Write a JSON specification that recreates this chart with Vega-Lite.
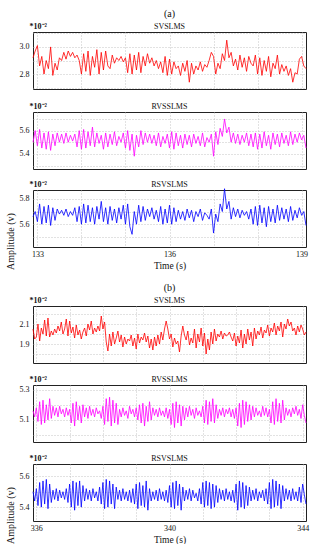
{
"$schema":"https://vega.github.io/schema/vega-lite/v6.json",
"padding":{"left":5,"top":8,"right":0,"bottom":0},
"background":"white",
"config":{
"font":"Liberation Serif",
"view":{"stroke":"#222","strokeWidth":1},
"axis":{"domain":false,"ticks":false,"grid":true,"gridColor":"#b5b5b5","gridDash":[1,2],"gridWidth":0.8,"labelFont":"Liberation Serif","labelFontSize":8,"labelColor":"#111","labelPadding":4,"labelOverlap":false,"titleFont":"Liberation Serif","titleColor":"#111","titleFontWeight":"normal"},
"title":{"font":"Liberation Serif","fontWeight":"normal","fontSize":8,"color":"#111","offset":-9,"frame":"group","subtitleFont":"Liberation Serif","subtitleColor":"#111","subtitleFontSize":8,"subtitlePadding":4}
},
"datasets":{
"a":[
{"t":132.9,"s":2.92,"r":5.5,"q":5.66},{"t":132.95,"s":2.97,"r":5.6,"q":5.7},{"t":133,"s":3.01,"r":5.47,"q":5.62},{"t":133.05,"s":2.86,"r":5.61,"q":5.76},{"t":133.1,"s":2.93,"r":5.45,"q":5.6},{"t":133.15,"s":2.8,"r":5.58,"q":5.74},{"t":133.2,"s":2.9,"r":5.44,"q":5.61},{"t":133.25,"s":2.84,"r":5.59,"q":5.75},{"t":133.3,"s":3.0,"r":5.43,"q":5.59},{"t":133.35,"s":2.79,"r":5.57,"q":5.73},
{"t":133.4,"s":2.88,"r":5.47,"q":5.63},{"t":133.45,"s":2.83,"r":5.58,"q":5.72},{"t":133.5,"s":2.92,"r":5.5,"q":5.68},{"t":133.55,"s":2.9,"r":5.57,"q":5.71},{"t":133.6,"s":2.96,"r":5.49,"q":5.67},{"t":133.65,"s":2.91,"r":5.58,"q":5.72},{"t":133.7,"s":2.97,"r":5.5,"q":5.66},{"t":133.75,"s":2.93,"r":5.56,"q":5.7},{"t":133.8,"s":2.96,"r":5.51,"q":5.67},{"t":133.85,"s":2.92,"r":5.57,"q":5.73},
{"t":133.9,"s":2.94,"r":5.46,"q":5.62},{"t":133.95,"s":2.9,"r":5.6,"q":5.74},{"t":134,"s":2.8,"r":5.44,"q":5.6},{"t":134.05,"s":2.95,"r":5.61,"q":5.76},{"t":134.1,"s":2.82,"r":5.45,"q":5.61},{"t":134.15,"s":2.97,"r":5.59,"q":5.75},{"t":134.2,"s":2.79,"r":5.47,"q":5.62},{"t":134.25,"s":2.93,"r":5.63,"q":5.73},{"t":134.3,"s":2.85,"r":5.46,"q":5.6},{"t":134.35,"s":2.98,"r":5.58,"q":5.74},
{"t":134.4,"s":2.8,"r":5.49,"q":5.64},{"t":134.45,"s":2.96,"r":5.56,"q":5.78},{"t":134.5,"s":2.83,"r":5.44,"q":5.62},{"t":134.55,"s":2.97,"r":5.58,"q":5.73},{"t":134.6,"s":2.86,"r":5.46,"q":5.6},{"t":134.65,"s":2.84,"r":5.57,"q":5.74},{"t":134.7,"s":2.94,"r":5.48,"q":5.63},{"t":134.75,"s":2.88,"r":5.59,"q":5.72},{"t":134.8,"s":2.92,"r":5.47,"q":5.61},{"t":134.85,"s":2.9,"r":5.55,"q":5.73},
{"t":134.9,"s":2.93,"r":5.5,"q":5.64},{"t":134.95,"s":2.89,"r":5.58,"q":5.75},{"t":135,"s":2.92,"r":5.45,"q":5.6},{"t":135.05,"s":2.81,"r":5.6,"q":5.76},{"t":135.1,"s":2.95,"r":5.43,"q":5.58},{"t":135.15,"s":2.8,"r":5.57,"q":5.52},{"t":135.2,"s":2.94,"r":5.38,"q":5.7},{"t":135.25,"s":2.83,"r":5.56,"q":5.6},{"t":135.3,"s":2.96,"r":5.46,"q":5.75},{"t":135.35,"s":2.81,"r":5.6,"q":5.62},
{"t":135.4,"s":2.93,"r":5.48,"q":5.74},{"t":135.45,"s":2.86,"r":5.58,"q":5.63},{"t":135.5,"s":2.95,"r":5.5,"q":5.72},{"t":135.55,"s":2.88,"r":5.57,"q":5.66},{"t":135.6,"s":2.92,"r":5.49,"q":5.73},{"t":135.65,"s":2.86,"r":5.56,"q":5.64},{"t":135.7,"s":2.9,"r":5.47,"q":5.71},{"t":135.75,"s":2.84,"r":5.58,"q":5.62},{"t":135.8,"s":2.89,"r":5.46,"q":5.74},{"t":135.85,"s":2.81,"r":5.55,"q":5.6},
{"t":135.9,"s":2.93,"r":5.49,"q":5.72},{"t":135.95,"s":2.79,"r":5.57,"q":5.61},{"t":136,"s":2.91,"r":5.45,"q":5.75},{"t":136.05,"s":2.8,"r":5.59,"q":5.6},{"t":136.1,"s":2.89,"r":5.44,"q":5.73},{"t":136.15,"s":2.84,"r":5.58,"q":5.62},{"t":136.2,"s":2.86,"r":5.47,"q":5.71},{"t":136.25,"s":2.79,"r":5.56,"q":5.64},{"t":136.3,"s":2.88,"r":5.45,"q":5.7},{"t":136.35,"s":2.82,"r":5.57,"q":5.63},
{"t":136.4,"s":2.9,"r":5.48,"q":5.72},{"t":136.45,"s":2.74,"r":5.56,"q":5.65},{"t":136.5,"s":2.88,"r":5.46,"q":5.71},{"t":136.55,"s":2.8,"r":5.57,"q":5.62},{"t":136.6,"s":2.86,"r":5.49,"q":5.7},{"t":136.65,"s":2.83,"r":5.55,"q":5.66},{"t":136.7,"s":2.89,"r":5.47,"q":5.72},{"t":136.75,"s":2.82,"r":5.58,"q":5.63},{"t":136.8,"s":2.87,"r":5.46,"q":5.69},{"t":136.85,"s":2.85,"r":5.54,"q":5.67},
{"t":136.9,"s":2.9,"r":5.5,"q":5.64},{"t":136.95,"s":2.96,"r":5.57,"q":5.72},{"t":137,"s":2.93,"r":5.38,"q":5.53},{"t":137.05,"s":2.8,"r":5.59,"q":5.68},{"t":137.1,"s":2.88,"r":5.48,"q":5.62},{"t":137.15,"s":2.84,"r":5.62,"q":5.76},{"t":137.2,"s":2.95,"r":5.55,"q":5.7},{"t":137.25,"s":2.9,"r":5.7,"q":5.88},{"t":137.3,"s":3.05,"r":5.58,"q":5.72},{"t":137.35,"s":2.92,"r":5.63,"q":5.78},
{"t":137.4,"s":2.96,"r":5.5,"q":5.64},{"t":137.45,"s":2.86,"r":5.58,"q":5.73},{"t":137.5,"s":2.91,"r":5.49,"q":5.66},{"t":137.55,"s":2.83,"r":5.57,"q":5.72},{"t":137.6,"s":2.94,"r":5.48,"q":5.65},{"t":137.65,"s":2.85,"r":5.56,"q":5.71},{"t":137.7,"s":2.92,"r":5.5,"q":5.67},{"t":137.75,"s":2.82,"r":5.58,"q":5.7},{"t":137.8,"s":2.93,"r":5.47,"q":5.64},{"t":137.85,"s":2.88,"r":5.57,"q":5.72},
{"t":137.9,"s":2.86,"r":5.46,"q":5.6},{"t":137.95,"s":2.94,"r":5.58,"q":5.74},{"t":138,"s":2.8,"r":5.44,"q":5.59},{"t":138.05,"s":2.92,"r":5.57,"q":5.75},{"t":138.1,"s":2.79,"r":5.45,"q":5.61},{"t":138.15,"s":2.9,"r":5.59,"q":5.73},{"t":138.2,"s":2.82,"r":5.47,"q":5.58},{"t":138.25,"s":2.93,"r":5.56,"q":5.74},{"t":138.3,"s":2.78,"r":5.44,"q":5.62},{"t":138.35,"s":2.88,"r":5.58,"q":5.72},
{"t":138.4,"s":2.84,"r":5.48,"q":5.61},{"t":138.45,"s":2.94,"r":5.57,"q":5.75},{"t":138.5,"s":2.8,"r":5.46,"q":5.63},{"t":138.55,"s":2.87,"r":5.58,"q":5.73},{"t":138.6,"s":2.82,"r":5.49,"q":5.64},{"t":138.65,"s":2.86,"r":5.56,"q":5.72},{"t":138.7,"s":2.79,"r":5.47,"q":5.62},{"t":138.75,"s":2.84,"r":5.59,"q":5.74},{"t":138.8,"s":2.74,"r":5.48,"q":5.63},{"t":138.85,"s":2.81,"r":5.57,"q":5.71},
{"t":138.9,"s":2.8,"r":5.5,"q":5.65},{"t":138.95,"s":2.91,"r":5.58,"q":5.73},{"t":139,"s":2.93,"r":5.52,"q":5.67},{"t":139.05,"s":2.86,"r":5.56,"q":5.7},{"t":139.1,"s":2.84,"r":5.45,"q":5.59}
],
"b":[
{"t":335.9,"s":2.05,"r":5.16,"q":5.5},{"t":335.95,"s":1.95,"r":5.12,"q":5.44},{"t":336,"s":1.97,"r":5.18,"q":5.52},{"t":336.05,"s":2.1,"r":5.09,"q":5.41},{"t":336.1,"s":1.93,"r":5.22,"q":5.56},{"t":336.15,"s":2.06,"r":5.07,"q":5.4},{"t":336.2,"s":2.0,"r":5.23,"q":5.57},{"t":336.25,"s":2.14,"r":5.08,"q":5.42},{"t":336.3,"s":1.98,"r":5.2,"q":5.58},{"t":336.35,"s":2.16,"r":5.1,"q":5.39},{"t":336.4,"s":1.97,"r":5.24,"q":5.55},{"t":336.45,"s":2.03,"r":5.11,"q":5.43},{"t":336.5,"s":1.99,"r":5.19,"q":5.51},{"t":336.55,"s":2.05,"r":5.13,"q":5.45},{"t":336.6,"s":2.01,"r":5.18,"q":5.52},{"t":336.65,"s":2.08,"r":5.12,"q":5.44},{"t":336.7,"s":2.03,"r":5.19,"q":5.51},{"t":336.75,"s":2.12,"r":5.14,"q":5.46},{"t":336.8,"s":2.0,"r":5.17,"q":5.5},{"t":336.85,"s":2.05,"r":5.12,"q":5.45},
{"t":336.9,"s":2.15,"r":5.18,"q":5.52},{"t":336.95,"s":1.98,"r":5.13,"q":5.43},{"t":337,"s":2.13,"r":5.17,"q":5.55},{"t":337.05,"s":2.01,"r":5.08,"q":5.4},{"t":337.1,"s":2.07,"r":5.21,"q":5.57},{"t":337.15,"s":1.96,"r":5.06,"q":5.38},{"t":337.2,"s":2.09,"r":5.22,"q":5.56},{"t":337.25,"s":1.99,"r":5.1,"q":5.41},{"t":337.3,"s":2.04,"r":5.19,"q":5.57},{"t":337.35,"s":1.95,"r":5.08,"q":5.4},{"t":337.4,"s":2.02,"r":5.2,"q":5.54},{"t":337.45,"s":2.06,"r":5.12,"q":5.44},{"t":337.5,"s":1.98,"r":5.18,"q":5.52},{"t":337.55,"s":2.1,"r":5.11,"q":5.45},{"t":337.6,"s":2.04,"r":5.19,"q":5.51},{"t":337.65,"s":2.13,"r":5.13,"q":5.44},{"t":337.7,"s":2.0,"r":5.17,"q":5.52},{"t":337.75,"s":2.06,"r":5.12,"q":5.46},{"t":337.8,"s":2.02,"r":5.18,"q":5.5},{"t":337.85,"s":2.08,"r":5.14,"q":5.44},
{"t":337.9,"s":2.03,"r":5.16,"q":5.53},{"t":337.95,"s":2.18,"r":5.11,"q":5.42},{"t":338,"s":2.05,"r":5.19,"q":5.56},{"t":338.05,"s":2.12,"r":5.07,"q":5.39},{"t":338.1,"s":1.92,"r":5.24,"q":5.58},{"t":338.15,"s":1.83,"r":5.09,"q":5.4},{"t":338.2,"s":2.0,"r":5.25,"q":5.57},{"t":338.25,"s":1.88,"r":5.06,"q":5.42},{"t":338.3,"s":2.02,"r":5.23,"q":5.55},{"t":338.35,"s":1.9,"r":5.08,"q":5.39},{"t":338.4,"s":1.96,"r":5.21,"q":5.53},{"t":338.45,"s":2.03,"r":5.07,"q":5.45},{"t":338.5,"s":1.92,"r":5.17,"q":5.51},{"t":338.55,"s":1.99,"r":5.12,"q":5.44},{"t":338.6,"s":1.87,"r":5.18,"q":5.52},{"t":338.65,"s":1.97,"r":5.13,"q":5.45},{"t":338.7,"s":1.9,"r":5.16,"q":5.5},{"t":338.75,"s":1.95,"r":5.11,"q":5.44},{"t":338.8,"s":1.93,"r":5.19,"q":5.51},{"t":338.85,"s":1.99,"r":5.14,"q":5.43},
{"t":338.9,"s":1.88,"r":5.17,"q":5.52},{"t":338.95,"s":1.96,"r":5.12,"q":5.42},{"t":339,"s":1.85,"r":5.18,"q":5.55},{"t":339.05,"s":2.0,"r":5.1,"q":5.39},{"t":339.1,"s":1.91,"r":5.2,"q":5.56},{"t":339.15,"s":1.97,"r":5.08,"q":5.41},{"t":339.2,"s":1.94,"r":5.21,"q":5.54},{"t":339.25,"s":2.01,"r":5.06,"q":5.4},{"t":339.3,"s":1.92,"r":5.19,"q":5.57},{"t":339.35,"s":1.98,"r":5.09,"q":5.38},{"t":339.4,"s":1.86,"r":5.22,"q":5.52},{"t":339.45,"s":1.95,"r":5.1,"q":5.44},{"t":339.5,"s":1.84,"r":5.18,"q":5.5},{"t":339.55,"s":1.97,"r":5.13,"q":5.45},{"t":339.6,"s":1.88,"r":5.17,"q":5.51},{"t":339.65,"s":1.99,"r":5.12,"q":5.44},{"t":339.7,"s":1.9,"r":5.18,"q":5.52},{"t":339.75,"s":2.02,"r":5.13,"q":5.45},{"t":339.8,"s":1.94,"r":5.16,"q":5.5},{"t":339.85,"s":2.05,"r":5.12,"q":5.44},
{"t":339.9,"s":2.13,"r":5.18,"q":5.51},{"t":339.95,"s":2.05,"r":5.11,"q":5.43},{"t":340,"s":1.95,"r":5.17,"q":5.54},{"t":340.05,"s":2.0,"r":5.07,"q":5.4},{"t":340.1,"s":1.87,"r":5.21,"q":5.56},{"t":340.15,"s":1.96,"r":5.05,"q":5.39},{"t":340.2,"s":1.9,"r":5.22,"q":5.57},{"t":340.25,"s":1.93,"r":5.08,"q":5.41},{"t":340.3,"s":1.82,"r":5.2,"q":5.55},{"t":340.35,"s":1.98,"r":5.06,"q":5.38},{"t":340.4,"s":2.08,"r":5.19,"q":5.53},{"t":340.45,"s":1.99,"r":5.1,"q":5.44},{"t":340.5,"s":1.94,"r":5.18,"q":5.51},{"t":340.55,"s":2.03,"r":5.12,"q":5.45},{"t":340.6,"s":1.89,"r":5.19,"q":5.52},{"t":340.65,"s":1.96,"r":5.13,"q":5.44},{"t":340.7,"s":1.91,"r":5.17,"q":5.51},{"t":340.75,"s":2.05,"r":5.11,"q":5.46},{"t":340.8,"s":1.86,"r":5.18,"q":5.49},{"t":340.85,"s":2.0,"r":5.13,"q":5.44},
{"t":340.9,"s":1.92,"r":5.16,"q":5.52},{"t":340.95,"s":2.06,"r":5.12,"q":5.42},{"t":341,"s":1.88,"r":5.19,"q":5.56},{"t":341.05,"s":2.01,"r":5.08,"q":5.4},{"t":341.1,"s":1.8,"r":5.23,"q":5.57},{"t":341.15,"s":1.95,"r":5.07,"q":5.41},{"t":341.2,"s":1.84,"r":5.22,"q":5.56},{"t":341.25,"s":2.02,"r":5.09,"q":5.39},{"t":341.3,"s":1.9,"r":5.24,"q":5.55},{"t":341.35,"s":2.05,"r":5.08,"q":5.4},{"t":341.4,"s":1.93,"r":5.2,"q":5.54},{"t":341.45,"s":2.0,"r":5.11,"q":5.43},{"t":341.5,"s":1.97,"r":5.17,"q":5.52},{"t":341.55,"s":2.03,"r":5.13,"q":5.45},{"t":341.6,"s":1.95,"r":5.18,"q":5.51},{"t":341.65,"s":2.01,"r":5.12,"q":5.44},{"t":341.7,"s":1.98,"r":5.17,"q":5.52},{"t":341.75,"s":1.99,"r":5.14,"q":5.45},{"t":341.8,"s":2.02,"r":5.18,"q":5.5},{"t":341.85,"s":1.97,"r":5.12,"q":5.44},
{"t":341.9,"s":1.93,"r":5.17,"q":5.51},{"t":341.95,"s":2.01,"r":5.11,"q":5.43},{"t":342,"s":1.88,"r":5.18,"q":5.55},{"t":342.05,"s":1.98,"r":5.06,"q":5.38},{"t":342.1,"s":1.91,"r":5.21,"q":5.57},{"t":342.15,"s":2.04,"r":5.05,"q":5.4},{"t":342.2,"s":1.86,"r":5.23,"q":5.56},{"t":342.25,"s":2.0,"r":5.07,"q":5.39},{"t":342.3,"s":1.9,"r":5.22,"q":5.54},{"t":342.35,"s":2.05,"r":5.09,"q":5.41},{"t":342.4,"s":1.94,"r":5.2,"q":5.53},{"t":342.45,"s":2.02,"r":5.1,"q":5.44},{"t":342.5,"s":1.88,"r":5.19,"q":5.51},{"t":342.55,"s":2.06,"r":5.12,"q":5.45},{"t":342.6,"s":1.95,"r":5.18,"q":5.52},{"t":342.65,"s":2.03,"r":5.13,"q":5.44},{"t":342.7,"s":1.99,"r":5.16,"q":5.5},{"t":342.75,"s":2.07,"r":5.12,"q":5.46},{"t":342.8,"s":1.96,"r":5.19,"q":5.51},{"t":342.85,"s":2.04,"r":5.13,"q":5.44},
{"t":342.9,"s":2.01,"r":5.18,"q":5.52},{"t":342.95,"s":2.09,"r":5.12,"q":5.42},{"t":343,"s":1.98,"r":5.17,"q":5.56},{"t":343.05,"s":2.06,"r":5.08,"q":5.39},{"t":343.1,"s":2.02,"r":5.22,"q":5.58},{"t":343.15,"s":2.11,"r":5.07,"q":5.4},{"t":343.2,"s":1.99,"r":5.24,"q":5.57},{"t":343.25,"s":2.08,"r":5.09,"q":5.41},{"t":343.3,"s":2.03,"r":5.21,"q":5.55},{"t":343.35,"s":2.12,"r":5.08,"q":5.39},{"t":343.4,"s":1.97,"r":5.23,"q":5.54},{"t":343.45,"s":2.1,"r":5.1,"q":5.44},{"t":343.5,"s":2.05,"r":5.18,"q":5.52},{"t":343.55,"s":2.15,"r":5.13,"q":5.45},{"t":343.6,"s":2.08,"r":5.17,"q":5.51},{"t":343.65,"s":2.12,"r":5.12,"q":5.44},{"t":343.7,"s":2.03,"r":5.18,"q":5.52},{"t":343.75,"s":2.06,"r":5.14,"q":5.45},{"t":343.8,"s":1.99,"r":5.19,"q":5.5},{"t":343.85,"s":2.08,"r":5.13,"q":5.44},
{"t":343.9,"s":2.02,"r":5.17,"q":5.53},{"t":343.95,"s":2.09,"r":5.11,"q":5.43},{"t":344,"s":2.05,"r":5.2,"q":5.55},{"t":344.05,"s":1.99,"r":5.13,"q":5.48},{"t":344.1,"s":2.02,"r":5.08,"q":5.42}
]
},
"spacing":12,
"vconcat":[
{
"title":{"text":"Amplitude (v)","orient":"left","fontSize":10,"offset":3,"frame":"bounds"},
"spacing":8,
"vconcat":[
{"width":273,"height":57,"data":{"name":"a"},
"title":{"text":"(a)","subtitle":"SVSLMS","fontSize":10},
"mark":{"type":"line","color":"#ff0000","strokeWidth":0.8},
"encoding":{
"x":{"field":"t","type":"quantitative","scale":{"domain":[132.9,139.1],"nice":false,"zero":false},"axis":{"values":[133,134,135,136,137,138,139],"labels":false,"title":null}},
"y":{"field":"s","type":"quantitative","scale":{"domain":[2.69,3.11],"nice":false,"zero":false},"axis":{"values":[2.7,2.8,2.9,3.0,3.1],"labelExpr":"indexof([2.8,3], datum.value) >= 0 ? format(datum.value, '.1f') : ''","title":"*10⁻²","titleAngle":0,"titleAlign":"left","titleBaseline":"bottom","titleX":-4,"titleY":-2,"titleFontSize":8,"titleFontWeight":"bold"}}}},
{"width":273,"height":57,"data":{"name":"a"},
"title":{"text":"RVSSLMS"},
"mark":{"type":"line","color":"#ff00ff","strokeWidth":0.8},
"encoding":{
"x":{"field":"t","type":"quantitative","scale":{"domain":[132.9,139.1],"nice":false,"zero":false},"axis":{"values":[133,134,135,136,137,138,139],"labels":false,"title":null}},
"y":{"field":"r","type":"quantitative","scale":{"domain":[5.27,5.76],"nice":false,"zero":false},"axis":{"values":[5.3,5.4,5.5,5.6,5.7],"labelExpr":"indexof([5.4,5.6], datum.value) >= 0 ? format(datum.value, '.1f') : ''","title":"*10⁻²","titleAngle":0,"titleAlign":"left","titleBaseline":"bottom","titleX":-4,"titleY":-2,"titleFontSize":8,"titleFontWeight":"bold"}}}},
{"width":273,"height":57,"data":{"name":"a"},
"title":{"text":"RSVSLMS"},
"mark":{"type":"line","color":"#0000ff","strokeWidth":0.8},
"encoding":{
"x":{"field":"t","type":"quantitative","scale":{"domain":[132.9,139.1],"nice":false,"zero":false},"axis":{"values":[133,134,135,136,137,138,139],"labelExpr":"indexof([133,136,139], datum.value) >= 0 ? datum.label : ''","title":"Time (s)","titleFontSize":9.5,"titlePadding":2,"labelPadding":3}},
"y":{"field":"q","type":"quantitative","scale":{"domain":[5.42,5.87],"nice":false,"zero":false},"axis":{"values":[5.5,5.6,5.7,5.8],"labelExpr":"indexof([5.6,5.8], datum.value) >= 0 ? format(datum.value, '.1f') : ''","title":"*10⁻²","titleAngle":0,"titleAlign":"left","titleBaseline":"bottom","titleX":-4,"titleY":-2,"titleFontSize":8,"titleFontWeight":"bold"}}}}
]
},
{
"title":{"text":"Amplitude (v)","orient":"left","fontSize":10,"offset":3,"frame":"bounds"},
"spacing":10,
"vconcat":[
{"width":273,"height":57,"data":{"name":"b"},
"title":{"text":"(b)","subtitle":"SVSLMS","fontSize":10},
"mark":{"type":"line","color":"#ff0000","strokeWidth":0.8},
"encoding":{
"x":{"field":"t","type":"quantitative","scale":{"domain":[335.9,344.1],"nice":false,"zero":false},"axis":{"values":[336,337,338,339,340,341,342,343,344],"labels":false,"title":null}},
"y":{"field":"s","type":"quantitative","scale":{"domain":[1.71,2.28],"nice":false,"zero":false},"axis":{"values":[1.8,1.9,2.0,2.1,2.2],"labelExpr":"indexof([1.9,2.1], datum.value) >= 0 ? format(datum.value, '.1f') : ''","title":"*10⁻²","titleAngle":0,"titleAlign":"left","titleBaseline":"bottom","titleX":-4,"titleY":-2,"titleFontSize":8,"titleFontWeight":"bold"}}}},
{"width":273,"height":57,"data":{"name":"b"},
"title":{"text":"RVSSLMS"},
"mark":{"type":"line","color":"#ff00ff","strokeWidth":0.8},
"encoding":{
"x":{"field":"t","type":"quantitative","scale":{"domain":[335.9,344.1],"nice":false,"zero":false},"axis":{"values":[336,337,338,339,340,341,342,343,344],"labels":false,"title":null}},
"y":{"field":"r","type":"quantitative","scale":{"domain":[4.955,5.33],"nice":false,"zero":false},"axis":{"values":[5.0,5.1,5.2,5.3],"labelExpr":"indexof([5.1,5.3], datum.value) >= 0 ? format(datum.value, '.1f') : ''","title":"*10⁻²","titleAngle":0,"titleAlign":"left","titleBaseline":"bottom","titleX":-4,"titleY":-2,"titleFontSize":8,"titleFontWeight":"bold"}}}},
{"width":273,"height":57,"data":{"name":"b"},
"title":{"text":"RSVSLMS"},
"mark":{"type":"line","color":"#0000ff","strokeWidth":0.8},
"encoding":{
"x":{"field":"t","type":"quantitative","scale":{"domain":[335.9,344.1],"nice":false,"zero":false},"axis":{"values":[336,337,338,339,340,341,342,343,344],"labelExpr":"indexof([336,340,344], datum.value) >= 0 ? datum.label : ''","title":"Time (s)","titleFontSize":9.5,"titlePadding":2,"labelPadding":3}},
"y":{"field":"q","type":"quantitative","scale":{"domain":[5.31,5.68],"nice":false,"zero":false},"axis":{"values":[5.4,5.5,5.6],"labelExpr":"indexof([5.4,5.6], datum.value) >= 0 ? format(datum.value, '.1f') : ''","title":"*10⁻²","titleAngle":0,"titleAlign":"left","titleBaseline":"bottom","titleX":-4,"titleY":-2,"titleFontSize":8,"titleFontWeight":"bold"}}}}
]
}
]
}
